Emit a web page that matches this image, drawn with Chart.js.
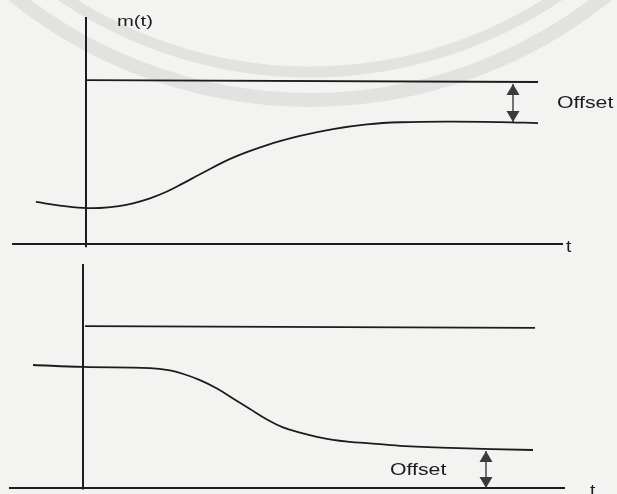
<!DOCTYPE html>
<html>
<head>
<meta charset="utf-8">
<script src="https://cdn.jsdelivr.net/npm/chart.js@4.4.1/dist/chart.umd.min.js"></script>
<style>
  html, body { margin: 0; padding: 0; background: #f3f3f1; }
  #wrap { position: relative; width: 617px; height: 494px; overflow: hidden; }
  .panel { position: absolute; left: 0; }
</style>
</head>
<body>
<div id="wrap">
  <div class="panel" style="top:0;"><canvas id="top" width="617" height="256"></canvas></div>
  <div class="panel" style="top:256px;"><canvas id="bottom" width="617" height="238"></canvas></div>
</div>
<script>
// ---------- shared time range ----------
const tMin = -1.7, tMax = 10.64;

// ---------- TOP PANEL (rising response, offset below set point) ----------
const topCurveT = [-0.98, -0.5, -0.04, 0.3, 0.64, 0.96, 1.3, 1.64, 1.96, 2.3, 2.96, 3.64, 4.3, 4.96, 5.64, 6.3, 7.3, 8.3, 9.06];
const topCurveM = [0.258, 0.236, 0.222, 0.221, 0.231, 0.25, 0.28, 0.322, 0.372, 0.428, 0.53, 0.607, 0.663, 0.705, 0.734, 0.747, 0.751, 0.748, 0.742];
const topSetT = [0.0, 9.06];
const topSetM = [1.006, 0.994];
const topVAxisT = [0.02, 0.02];
const topVAxisM = [1.393, -0.02];
const topHAxisT = [-1.46, 9.56];
const topHAxisM = [0, 0];
const topArrowT = [8.56, 8.56];
const topArrowM = [0.982, 0.748];
const topLabels = ["m(t)", "Offset", "t"];
const topLabelT = [0.64, 9.44, 9.62];
const topLabelM = [1.362, 0.865, 0.03];
const topYRange = [-0.0736, 1.497];

// ---------- BOTTOM PANEL (falling response, offset above axis) ----------
const botCurveT = [-1.04, -0.04, 1.3, 1.7, 2.0, 2.3, 2.64, 2.96, 3.3, 3.64, 3.96, 4.3, 4.64, 4.96, 5.3, 5.64, 6.3, 7.3, 8.96];
const botCurveM = [0.764, 0.752, 0.745, 0.73, 0.705, 0.67, 0.618, 0.556, 0.49, 0.425, 0.376, 0.344, 0.318, 0.299, 0.287, 0.279, 0.262, 0.249, 0.236];
const botSetT = [0.0, 9.0];
const botSetM = [1.006, 0.994];
const botVAxisT = [-0.04, -0.04];
const botVAxisM = [1.391, -0.01];
const botHAxisT = [-1.52, 9.6];
const botHAxisM = [0, 0];
const botArrowT = [8.02, 8.02];
const botArrowM = [0.230, 0.0];
const botLabels = ["Offset", "t"];
const botLabelT = [6.1, 10.1];
const botLabelM = [0.112, 0.025];
const botYRange = [-0.0373, 1.441];

const INK = '#1c1c1c';

function pts(ts, ms) { return ts.map((t, i) => ({ x: t, y: ms[i] })); }

function lineDs(data, width, smooth) {
  return {
    data: data,
    borderColor: INK,
    borderWidth: width,
    pointRadius: 0,
    fill: false,
    tension: smooth ? 0.4 : 0
  };
}

// arrow heads + text labels, positioned through the chart scales
const annotPlugin = {
  id: 'annot',
  beforeDraw(chart, args, opts) {
    const ctx = chart.ctx;
    ctx.save();
    ctx.fillStyle = '#f3f3f1';
    ctx.fillRect(0, 0, chart.width, chart.height);
    if (opts.watermark) {
      ctx.strokeStyle = 'rgba(215,215,215,0.6)';
      ctx.lineWidth = 11;
      ctx.beginPath();
      ctx.arc(310, -372, 444, 0.12 * Math.PI, 0.88 * Math.PI);
      ctx.stroke();
      ctx.lineWidth = 14;
      ctx.beginPath();
      ctx.arc(310, -372, 472, 0.12 * Math.PI, 0.88 * Math.PI);
      ctx.stroke();
    }
    ctx.restore();
  },
  afterDatasetsDraw(chart, args, opts) {
    const ctx = chart.ctx;
    const xs = chart.scales.x, ys = chart.scales.y;
    ctx.save();
    // arrow heads
    const a = opts.arrow;
    const ax = xs.getPixelForValue(a.t[0]);
    const yTop = ys.getPixelForValue(a.m[0]);
    const yBot = ys.getPixelForValue(a.m[1]);
    const h = 11, w = 6.5;
    ctx.fillStyle = '#3a3a3a';
    ctx.beginPath();
    ctx.moveTo(ax, yTop); ctx.lineTo(ax - w, yTop + h); ctx.lineTo(ax + w, yTop + h); ctx.closePath();
    ctx.fill();
    ctx.beginPath();
    ctx.moveTo(ax, yBot); ctx.lineTo(ax - w, yBot - h); ctx.lineTo(ax + w, yBot - h); ctx.closePath();
    ctx.fill();
    // labels
    ctx.fillStyle = INK;
    opts.labels.forEach((txt, i) => {
      const px = xs.getPixelForValue(opts.labelT[i]);
      const py = ys.getPixelForValue(opts.labelM[i]);
      const st = opts.styles[i];
      ctx.save();
      ctx.translate(px, py);
      ctx.scale(st.sx, 1);
      ctx.font = st.size + 'px "Liberation Sans", Arial, sans-serif';
      ctx.textBaseline = st.base;
      ctx.textAlign = 'left';
      ctx.fillText(txt, 0, 0);
      ctx.restore();
    });
    ctx.restore();
  }
};

function makeChart(id, cfg) {
  return new Chart(document.getElementById(id), {
    type: 'line',
    data: {
      datasets: [
        lineDs(pts(cfg.vT, cfg.vM), 2, false),
        lineDs(pts(cfg.hT, cfg.hM), 2, false),
        lineDs(pts(cfg.sT, cfg.sM), 1.8, false),
        lineDs(pts(cfg.cT, cfg.cM), 1.8, true),
        lineDs(pts(cfg.aT, cfg.aM), 1.2, false)
      ]
    },
    options: {
      responsive: false,
      maintainAspectRatio: false,
      devicePixelRatio: 1,
      animation: false,
      layout: { padding: 0 },
      scales: {
        x: { type: 'linear', min: tMin, max: tMax, display: false },
        y: { type: 'linear', min: cfg.yr[0], max: cfg.yr[1], display: false }
      },
      plugins: {
        legend: { display: false },
        tooltip: { enabled: false },
        annot: {
          watermark: cfg.watermark,
          arrow: { t: cfg.aT, m: cfg.aM },
          labels: cfg.labels, labelT: cfg.lT, labelM: cfg.lM, styles: cfg.styles
        }
      }
    },
    plugins: [annotPlugin]
  });
}

makeChart('top', {
  vT: topVAxisT, vM: topVAxisM, hT: topHAxisT, hM: topHAxisM,
  sT: topSetT, sM: topSetM, cT: topCurveT, cM: topCurveM,
  aT: topArrowT, aM: topArrowM, yr: topYRange, watermark: true,
  labels: topLabels, lT: topLabelT, lM: topLabelM,
  styles: [
    { size: 15, sx: 1.35, base: 'middle' },
    { size: 17, sx: 1.25, base: 'middle' },
    { size: 16, sx: 1.2, base: 'top' }
  ]
});

makeChart('bottom', {
  vT: botVAxisT, vM: botVAxisM, hT: botHAxisT, hM: botHAxisM,
  sT: botSetT, sM: botSetM, cT: botCurveT, cM: botCurveM,
  aT: botArrowT, aM: botArrowM, yr: botYRange, watermark: false,
  labels: botLabels, lT: botLabelT, lM: botLabelM,
  styles: [
    { size: 17, sx: 1.25, base: 'middle' },
    { size: 16, sx: 1.2, base: 'top' }
  ]
});
</script>
</body>
</html>
